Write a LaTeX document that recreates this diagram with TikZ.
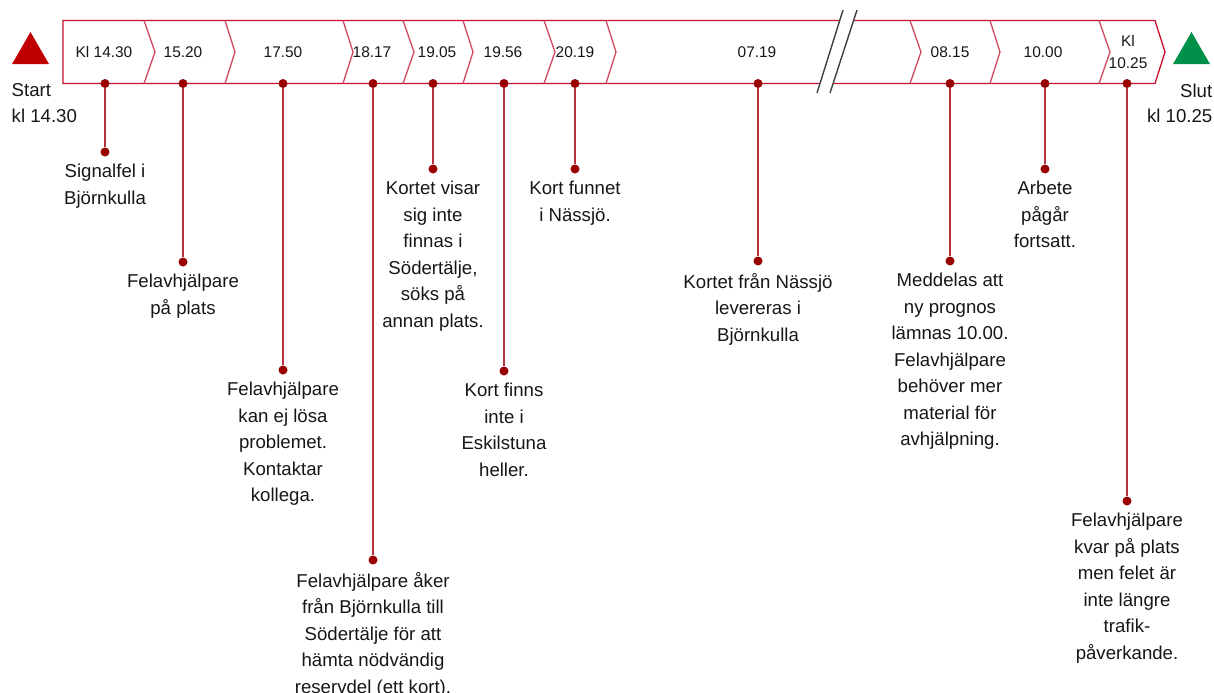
\documentclass[tikz,border=0pt]{standalone}
\usepackage{fontspec}
\setmainfont{Liberation Sans}
\usepackage{xcolor}
\usepackage{tikz}
\usetikzlibrary{positioning,shapes.geometric}
\definecolor{crimson}{HTML}{C8102E}
\definecolor{blush}{HTML}{D04A62}
\definecolor{stemred}{HTML}{B8333E}
\definecolor{dotred}{HTML}{990000}
\definecolor{startred}{HTML}{C00000}
\definecolor{slutgreen}{HTML}{00904A}
\definecolor{bk80}{HTML}{404040}
\definecolor{ink}{HTML}{161616}
\tikzset{
  bandline/.style={draw=crimson, line width=0.75pt, line join=miter},
  chevline/.style={draw=blush, line width=0.75pt},
  breakline/.style={draw=bk80, line width=0.8pt},
  timelabel/.style={
    font=\fontsize{8.8}{13}\selectfont, text=ink, align=center,
    inner sep=0pt
  },
  evdot/.style={
    circle, fill=dotred, minimum size=0.18cm, inner sep=0pt
  },
  stem/.style={draw=stemred, line width=0.85pt},
  evtext/.style={
    font=\fontsize{10.6}{15.1}\selectfont, text=ink, align=center,
    inner sep=0pt
  },
  endmark/.style={
    regular polygon, regular polygon sides=3, fill=#1,
    minimum size=0.855cm, inner sep=0pt
  },
  endmark/.default=startred,
  endtext/.style={
    font=\fontsize{10.6}{14.4}\selectfont, text=ink, inner sep=0pt
  },
}
\begin{document}
\begin{tikzpicture}[x=0.02cm, y=-0.02cm]
  \useasboundingbox (0,0) rectangle (1214,693);

  % Band with chevrons
  \draw[bandline] (63,20.5) -- (1155,20.5) -- (1165,52) -- (1155,83.5) -- (63,83.5) -- cycle;
  \draw[chevline] (144,20.5) -- (155,52) -- (144,83.5)
    (225,20.5) -- (235,52) -- (225,83.5)
    (343,20.5) -- (353,52) -- (343,83.5)
    (403,20.5) -- (414,52) -- (403,83.5)
    (463,20.5) -- (473,52) -- (463,83.5)
    (544,20.5) -- (555,52) -- (544,83.5)
    (606,20.5) -- (616,52) -- (606,83.5)
    (910,20.5) -- (921,52) -- (910,83.5)
    (990,20.5) -- (1000,52) -- (990,83.5)
    (1099,20.5) -- (1110,52) -- (1099,83.5);

  % Break in time
  \fill[white] (843,10) -- (857,10) -- (830,93) -- (817,93) -- cycle;
  \draw[breakline] (843,10) -- (817,93) (857,10) -- (830,93);

  % Start / Slut
  \node[endmark=startred] (st) at (30.5,53.4) {};
  \node[endtext, align=left, below right=0.38cm and 0cm of st.corner 2] (stl) {Start\\kl 14.30};
  \node[endmark=slutgreen] (sl) at (1191.5,53.4) {};
  \node[endtext, align=right, below left=0.38cm and -0.04cm of sl.corner 3] (sll) {Slut\\kl 10.25};

  % Times in the band
  \node[timelabel] (h1) at (104,52) {Kl 14.30};
  \node[timelabel] (h2) at (183,52) {15.20};
  \node[timelabel] (h3) at (283,52) {17.50};
  \node[timelabel] (h4) at (372,52) {18.17};
  \node[timelabel] (h5) at (437,52) {19.05};
  \node[timelabel] (h6) at (503,52) {19.56};
  \node[timelabel] (h7) at (575,52) {20.19};
  \node[timelabel] (h8) at (757,52) {07.19};
  \node[timelabel] (h9) at (950,52) {08.15};
  \node[timelabel] (h10) at (1043,52) {10.00};
  \node[timelabel] (h11) at (1128,52) {Kl\\10.25};

  % Events
  \node[evdot] (t1) at (105,83.5) {};
  \node[evdot] (e1) at (105,152) {};
  \node[evtext, below=0.14cm of e1] (x1) {Signalfel i\\Björnkulla};
  \draw[stem] (t1) -- (e1);

  \node[evdot] (t2) at (183,83.5) {};
  \node[evdot] (e2) at (183,262) {};
  \node[evtext, below=0.14cm of e2] (x2) {Felavhjälpare\\på plats};
  \draw[stem] (t2) -- (e2);

  \node[evdot] (t3) at (283,83.5) {};
  \node[evdot] (e3) at (283,370) {};
  \node[evtext, below=0.14cm of e3] (x3) {Felavhjälpare\\kan ej lösa\\problemet.\\Kontaktar\\kollega.};
  \draw[stem] (t3) -- (e3);

  \node[evdot] (t4) at (373,83.5) {};
  \node[evdot] (e4) at (373,560) {};
  \node[evtext, below=0.14cm of e4] (x4) {Felavhjälpare åker\\från Björnkulla till\\Södertälje för att\\hämta nödvändig\\reservdel (ett kort).};
  \draw[stem] (t4) -- (e4);

  \node[evdot] (t5) at (433,83.5) {};
  \node[evdot] (e5) at (433,169) {};
  \node[evtext, below=0.14cm of e5] (x5) {Kortet visar\\sig inte\\finnas i\\Södertälje,\\söks på\\annan plats.};
  \draw[stem] (t5) -- (e5);

  \node[evdot] (t6) at (504,83.5) {};
  \node[evdot] (e6) at (504,371) {};
  \node[evtext, below=0.14cm of e6] (x6) {Kort finns\\inte i\\Eskilstuna\\heller.};
  \draw[stem] (t6) -- (e6);

  \node[evdot] (t7) at (575,83.5) {};
  \node[evdot] (e7) at (575,169) {};
  \node[evtext, below=0.14cm of e7] (x7) {Kort funnet\\i Nässjö.};
  \draw[stem] (t7) -- (e7);

  \node[evdot] (t8) at (758,83.5) {};
  \node[evdot] (e8) at (758,261) {};
  \node[evtext, below=0.14cm of e8] (x8) {Kortet från Nässjö\\levereras i\\Björnkulla};
  \draw[stem] (t8) -- (e8);

  \node[evdot] (t9) at (950,83.5) {};
  \node[evdot] (e9) at (950,261) {};
  \node[evtext, below=0.14cm of e9] (x9) {Meddelas att\\ny prognos\\lämnas 10.00.\\Felavhjälpare\\behöver mer\\material för\\avhjälpning.};
  \draw[stem] (t9) -- (e9);

  \node[evdot] (t10) at (1045,83.5) {};
  \node[evdot] (e10) at (1045,169) {};
  \node[evtext, below=0.14cm of e10] (x10) {Arbete\\pågår\\fortsatt.};
  \draw[stem] (t10) -- (e10);

  \node[evdot] (t11) at (1127,83.5) {};
  \node[evdot] (e11) at (1127,501) {};
  \node[evtext, below=0.14cm of e11] (x11) {Felavhjälpare\\kvar på plats\\men felet är\\inte längre\\trafik-\\påverkande.};
  \draw[stem] (t11) -- (e11);
\end{tikzpicture}
\end{document}
